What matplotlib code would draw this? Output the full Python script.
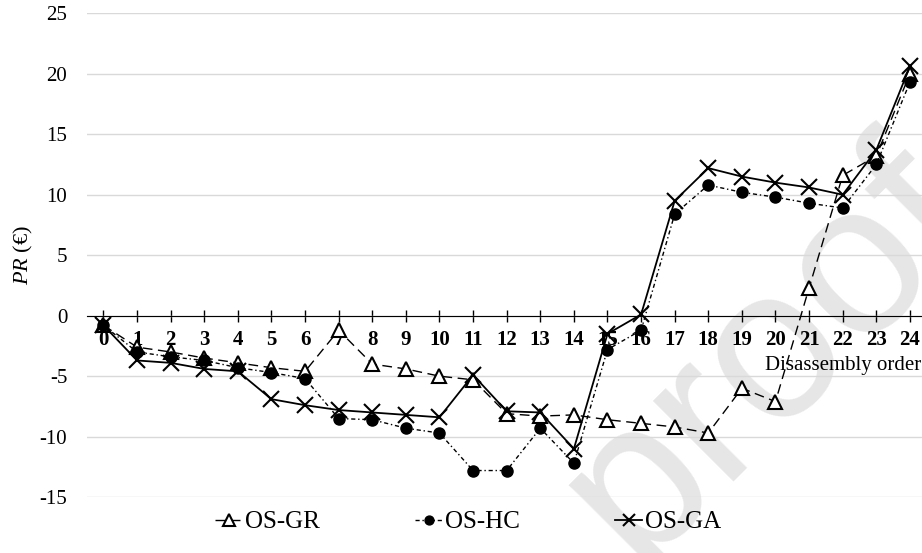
import matplotlib
matplotlib.use("Agg")
import matplotlib.pyplot as plt

# disassembly order positions
order = list(range(25))

# PR values (EUR)
os_gr = [-0.8, -2.6, -3.0, -3.5, -3.9, -4.3, -4.6, -1.2, -4.0, -4.4, -5.0, -5.3,
         -8.1, -8.3, -8.2, -8.6, -8.9, -9.2, -9.7, -6.0, -7.1, 2.3, 11.6, 13.2, 20.0]
os_hc = [-0.8, -3.0, -3.4, -3.7, -4.3, -4.7, -5.2, -8.5, -8.6, -9.3, -9.7, -12.8,
         -12.8, -9.3, -12.2, -2.8, -1.2, 8.4, 10.8, 10.2, 9.8, 9.3, 8.9, 12.5, 19.3]
os_ga = [-0.8, -3.7, -3.9, -4.4, -4.6, -6.9, -7.4, -7.8, -8.0, -8.2, -8.4, -4.9,
         -7.9, -8.0, -11.0, -1.5, 0.1, 9.5, 12.2, 11.5, 11.0, 10.6, 10.0, 13.7, 20.6]

yticks = [-15, -10, -5, 0, 5, 10, 15, 20, 25]

plt.rcParams['font.family'] = ['Liberation Serif', 'DejaVu Serif']
plt.rcParams['mathtext.fontset'] = 'custom'
plt.rcParams['mathtext.it'] = 'Liberation Serif:italic'
plt.rcParams['mathtext.rm'] = 'Liberation Serif'

fig = plt.figure(figsize=(9.22, 5.53), dpi=100)
ax = fig.add_axes([0.094, 0.101, 0.906, 0.875])
ax.patch.set_alpha(0)

# faint watermark behind the data
ax.text(0.835, 0.36, "proof", fontsize=155, color='#e6e6e6', rotation=45,
        ha='center', va='center', zorder=0, family='Liberation Sans',
        transform=fig.transFigure, clip_on=False)

ax.plot(order, os_gr, color='black', lw=1, dashes=(7, 4), marker='^',
        markersize=10, markerfacecolor='white', markeredgecolor='black',
        markeredgewidth=1.5, label='OS-GR', zorder=3)
ax.plot(order, os_hc, color='black', lw=1, dashes=(3, 2, 1, 2), marker='o',
        markersize=8, markerfacecolor='black', markeredgecolor='black',
        label='OS-HC', zorder=3)
ax.plot(order, os_ga, color='black', lw=1.3, marker='x', markersize=11,
        markeredgewidth=1.5, label='OS-GA', zorder=4)

ax.set_xlim(-0.5, 24.36)
ax.set_ylim(-15, 25)
ax.set_yticks(yticks)
ax.set_yticklabels([str(v) for v in yticks], fontsize=15)
ax.yaxis.grid(True, color='#d9d9d9', lw=1)
ax.set_axisbelow(True)
ax.tick_params(axis='y', length=0, pad=14)

ax.spines['bottom'].set_position(('data', 0))
for s in ['left', 'top', 'right']:
    ax.spines[s].set_visible(False)
ax.set_xticks(order)
ax.set_xticklabels([str(o) for o in order], fontsize=15, fontweight='bold')
ax.tick_params(axis='x', direction='inout', length=8, width=1, pad=6)

ax.text(24.33, -4.1, "Disassembly order", fontsize=15, ha='right', va='center')
fig.text(0.026, 0.539, r"$PR$ (€)", fontsize=16, rotation=90, ha='center', va='center')

fig.legend(handles=ax.get_lines(), loc='center left',
           bbox_to_anchor=(215 / 922, 1 - 522 / 553), ncol=3, frameon=False,
           fontsize=18, handlelength=1.1, columnspacing=3.8, handletextpad=0.1,
           borderpad=0, borderaxespad=0, markerscale=0.8)

fig.savefig("out.png", dpi=100)
